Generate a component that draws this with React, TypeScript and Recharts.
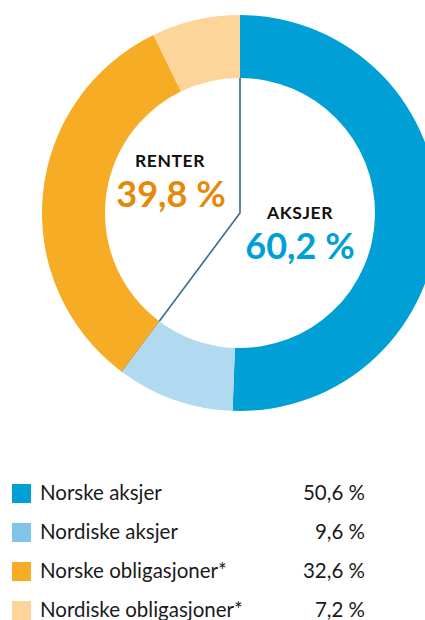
import React from "react";
import { Cell, Customized, Pie, PieChart } from "recharts";

const categories = ["Norske aksjer", "Nordiske aksjer", "Norske obligasjoner*", "Nordiske obligasjoner*"];
const shares = [50.6, 9.6, 32.6, 7.2];
const groupNames = ["AKSJER", "RENTER"];
const groupMembers = [
  [0, 1],
  [2, 3],
];

const sliceColors = ["#00A0D6", "#B1D9EF", "#F7AC25", "#FDD59A"];
const swatchColors = ["#00A0D6", "#80C5E8", "#F7AC25", "#FDD59A"];

const CX = 240;
const CY = 213;
const OUTER = 198;
const INNER = 135;

const data = categories.map((name, i) => ({ name, value: shares[i] }));
const total = shares.reduce((a, b) => a + b, 0);
const groupTotals = groupMembers.map((idx) => idx.reduce((s, i) => s + shares[i], 0));

const fmt = (v: number) => `${v.toFixed(1).replace(".", ",")} %`;

function Divider() {
  // aksjer/renter split line, from the top through the centre to the boundary
  const angle = (groupTotals[0] / total) * 2 * Math.PI;
  const x = CX + OUTER * Math.sin(angle);
  const y = CY - OUTER * Math.cos(angle);
  return (
    <g>
      <polyline
        points={`${CX},${CY - OUTER} ${CX},${CY} ${x},${y}`}
        fill="none"
        stroke="#3B6A8C"
        strokeWidth={1.6}
      />
      <text x={170} y={167} textAnchor="middle" fontSize={17.5} fontWeight={700} fill="#111" letterSpacing={0.6}>
        {groupNames[1]}
      </text>
      <text x={171} y={207} textAnchor="middle" fontSize={36} fontWeight={700} fill="#E38A0B">
        {fmt(groupTotals[1])}
      </text>
      <text x={300} y={219} textAnchor="middle" fontSize={17.5} fontWeight={700} fill="#111" letterSpacing={0.6}>
        {groupNames[0]}
      </text>
      <text x={300} y={259} textAnchor="middle" fontSize={36} fontWeight={700} fill="#00A0D6">
        {fmt(groupTotals[0])}
      </text>
    </g>
  );
}

export default function App() {
  return (
    <div
      style={{
        position: "absolute",
        left: 0,
        top: 0,
        width: 425,
        height: 620,
        overflow: "hidden",
        background: "#fff",
        fontFamily: "Lato, sans-serif",
      }}
    >
      <PieChart
        width={425}
        height={440}
        margin={{ top: 0, right: 0, bottom: 0, left: 0 }}
        style={{ fontFamily: "Lato, sans-serif" }}
      >
        <Pie
          data={data}
          dataKey="value"
          cx={CX}
          cy={CY}
          innerRadius={INNER}
          outerRadius={OUTER}
          startAngle={90}
          endAngle={-270}
          stroke="none"
          isAnimationActive={false}
        >
          {data.map((d, i) => (
            <Cell key={d.name} fill={sliceColors[i]} />
          ))}
        </Pie>
        <Customized component={Divider} />
      </PieChart>
      <div style={{ position: "absolute", left: 0, top: 484, width: 425 }}>
        {categories.map((name, i) => (
          <div key={name} style={{ position: "relative", height: 39 }}>
            <div
              style={{
                position: "absolute",
                left: 12,
                top: 0,
                width: 19,
                height: 19,
                background: swatchColors[i],
              }}
            />
            <div
              style={{
                position: "absolute",
                left: 40,
                top: -4,
                fontSize: 20.5,
                lineHeight: "25px",
                color: "#1a1a1a",
                whiteSpace: "nowrap",
              }}
            >
              {name}
            </div>
            <div
              style={{
                position: "absolute",
                right: 60,
                top: -4,
                fontSize: 20.5,
                lineHeight: "25px",
                color: "#1a1a1a",
                whiteSpace: "nowrap",
              }}
            >
              {fmt(shares[i])}
            </div>
          </div>
        ))}
      </div>
    </div>
  );
}
